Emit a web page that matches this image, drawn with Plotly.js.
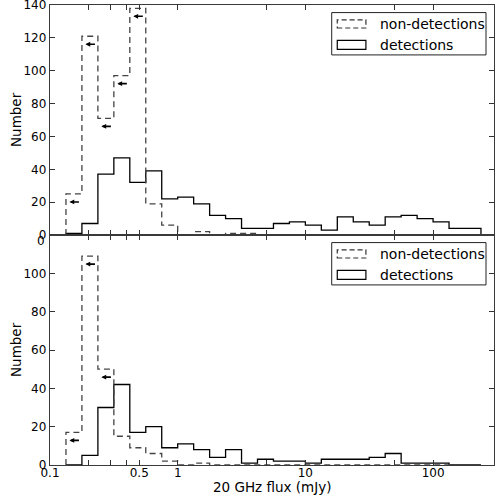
<!DOCTYPE html>
<html><head><meta charset="utf-8">
<script src="https://cdn.plot.ly/plotly-3.0.1.min.js"></script>
<style>html,body{margin:0;padding:0;background:#fff}#chart{width:496px;height:504px}</style>
</head><body><div id="chart"></div>
<script>
// Bin edges (mJy), eight bins per decade
const binEdges = [0.13335,0.17783,0.23714,0.31623,0.42170,0.56234,0.74989,1,1.3335,1.7783,2.3714,3.1623,4.2170,5.6234,7.4989,10,13.335,17.783,23.714,31.623,42.170,56.234,74.989,100,133.35,177.83,237.14];
// Top panel
const topDetections    = [1,7,37,47,32,39,22,23,19,12,10,4,4,7,8,6,3,11,8,6,11,12,10,8,4,4];
const topNonDetections = [25,121,71,97,138,19,6,0,2,0,1,1,0,0,0,0,0,0,0,0,0,0,0,0,0,0];
const topUpperLimitBins = [0,1,2,3,4];
// Bottom panel
const botDetections    = [0,5,30,42,17,20,9,11,8,4,8,1,3,2,2,1,3,3,3,4,6,1,1,1,0,0];
const botNonDetections = [17,109,50,15,9,6,2,0,1,0,0,0,0,0,0,0,0,0,0,0,0,0,0,0,0,0];
const botUpperLimitBins = [0,1,2];
// Ticks
const xTickVals = [0.1,0.2,0.3,0.4,0.5,1,5,10,50,100];
const xTickText = ['0.1','','','','0.5','1','','10','','100'];
const topYTicks = [0,20,40,60,80,100,120,140];
const botYTicks = [0,20,40,60,80,100];
const seriesNames = ['non-detections','detections'];
const yTitle = 'Number';
const xTitle = '20 GHz flux (mJy)';

const FONT = 'DejaVu Sans, Liberation Sans, sans-serif';

function stepOutline(edges, counts){
  const xs=[edges[0]], ys=[0];
  for(let i=0;i<counts.length;i++){ xs.push(edges[i], edges[i+1]); ys.push(counts[i], counts[i]); }
  xs.push(edges[counts.length]); ys.push(0);
  return {xs, ys};
}
function histTrace(counts, dashed, xa, ya){
  const p = stepOutline(binEdges, counts);
  return {type:'scatter', mode:'lines', x:p.xs, y:p.ys, xaxis:xa, yaxis:ya, showlegend:false, hoverinfo:'skip',
    line:{color: dashed ? '#444' : '#000', width:1.3, dash: dashed ? '6px,4px' : 'solid'}};
}
const data = [
  histTrace(topDetections,false,'x','y'),
  histTrace(topNonDetections,true,'x','y'),
  histTrace(botDetections,false,'x2','y2'),
  histTrace(botNonDetections,true,'x2','y2')
];

const axisCommon = {ticks:'inside', ticklen:5, tickwidth:1, tickcolor:'#333', mirror:'ticks', showline:true,
  linecolor:'#3a3a3a', linewidth:1.3, showgrid:false, zeroline:false, ticklabeloverflow:'allow',
  tickfont:{family:FONT,size:12,color:'#000'}};
const xr = [-1, Math.log10(300)];
const layout = {
  width:496, height:504, margin:{l:50,r:2,t:5,b:39}, paper_bgcolor:'#fff', plot_bgcolor:'#fff', showlegend:false,
  xaxis: Object.assign({}, axisCommon, {type:'log', range:xr, domain:[0,1], anchor:'y', tickvals:xTickVals, ticktext:xTickText, showticklabels:false}),
  yaxis: Object.assign({}, axisCommon, {range:[0,140.02], domain:[0.5,1], anchor:'x', tickvals:topYTicks}),
  xaxis2: Object.assign({}, axisCommon, {type:'log', range:xr, domain:[0,1], anchor:'y2', tickvals:xTickVals, ticktext:xTickText, ticklabelstandoff:-4}),
  yaxis2: Object.assign({}, axisCommon, {range:[0,120], domain:[0,0.5], anchor:'x2', tickvals:botYTicks}),
  shapes:[], annotations:[]
};

// axis titles
['y','y2'].forEach(ya=>{
  layout.annotations.push({xref:'paper', yref:ya+' domain', x:0, y:0.5, xshift:-34, textangle:-90, showarrow:false,
    xanchor:'center', yanchor:'middle', text:yTitle, font:{family:FONT,size:13.5,color:'#000'}});
});
layout.annotations.push({xref:'x2 domain', yref:'paper', x:0.5, y:0, yshift:-22, showarrow:false,
  xanchor:'center', yanchor:'middle', text:xTitle, font:{family:FONT,size:13.5,color:'#000'}});

function addLegend(xs, ys){
  const xd = xs+' domain', yd = ys+' domain';
  layout.shapes.push({type:'rect', xref:xd, yref:yd, x0:0.6345, x1:0.982, y0:0.783, y1:0.967, line:{color:'#222',width:1}, fillcolor:'#fff', layer:'above'});
  layout.shapes.push({type:'rect', xref:xd, yref:yd, x0:0.647, x1:0.7115, y0:0.900, y1:0.935, line:{color:'#333',width:1.2,dash:'5px,3px'}, layer:'above'});
  layout.shapes.push({type:'rect', xref:xd, yref:yd, x0:0.647, x1:0.7115, y0:0.807, y1:0.846, line:{color:'#000',width:1.2}, layer:'above'});
  layout.annotations.push({xref:xd, yref:yd, x:0.738, y:0.917, xanchor:'left', yanchor:'middle', showarrow:false, text:seriesNames[0], font:{family:FONT,size:14,color:'#000'}});
  layout.annotations.push({xref:xd, yref:yd, x:0.738, y:0.827, xanchor:'left', yanchor:'middle', showarrow:false, text:seriesNames[1], font:{family:FONT,size:14,color:'#000'}});
}
addLegend('x','y');
addLegend('x2','y2');

function addArrows(bins, counts, xs, ys){
  bins.forEach(i=>{
    layout.annotations.push({xref:xs, yref:ys, x:Math.log10(binEdges[i]), y:counts[i], xshift:3.5, yshift:-8,
      text:'', showarrow:true, axref:'pixel', ayref:'pixel', ax:11, ay:0, arrowhead:2, arrowsize:0.6, arrowwidth:1.6, arrowcolor:'#000', standoff:0});
  });
}
addArrows(topUpperLimitBins, topNonDetections, 'x','y');
addArrows(botUpperLimitBins, botNonDetections, 'x2','y2');

// stray "0" label just under the panel join, as in the reference
layout.annotations.push({xref:'paper', yref:'y2', x:0, y:117, xanchor:'right', yanchor:'middle', xshift:-3, showarrow:false, text:'0', font:{family:FONT,size:12,color:'#000'}});

Plotly.newPlot('chart', data, layout, {displayModeBar:false, staticPlot:true});
</script></body></html>
